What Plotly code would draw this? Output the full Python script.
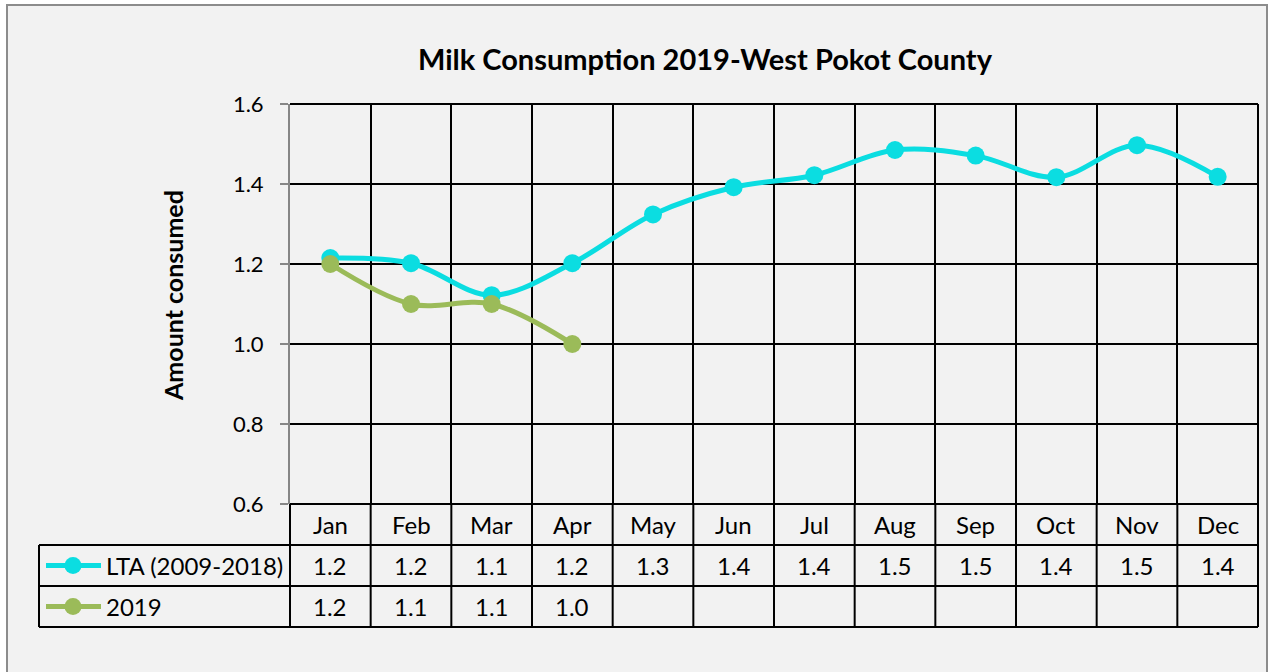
import plotly.graph_objects as go

# ---- data ----
months = ["Jan", "Feb", "Mar", "Apr", "May", "Jun", "Jul", "Aug", "Sep", "Oct", "Nov", "Dec"]
lta_values = [1.215, 1.202, 1.122, 1.202, 1.324, 1.392, 1.422, 1.485, 1.471, 1.417, 1.497, 1.418]
y2019_values = [1.2, 1.1, 1.1, 1.0]
series_names = ["LTA (2009-2018)", "2019"]
y_ticks = [0.6, 0.8, 1.0, 1.2, 1.4, 1.6]

# ---- styling ----
W, H = 1275, 672
CYAN = "#0BDDE1"
GREEN = "#9BBB59"
FONT = "Lato"
GRID = "#000000"
AXIS_GREY = "#868686"

# pixel layout of the plot area and data table
PLOT_L, PLOT_R, PLOT_T, PLOT_B = 290, 1258, 104, 504
ROW_LINES = [504, 545, 586, 627]
TABLE_L = 39


def px(x):
    return x / W


def py(y):
    return 1 - y / H


fig = go.Figure()

fig.add_trace(go.Scatter(
    x=months, y=lta_values, name=series_names[0], mode="lines+markers",
    line=dict(color=CYAN, width=5, shape="spline", smoothing=1.0),
    marker=dict(color=CYAN, size=18),
))
fig.add_trace(go.Scatter(
    x=months[:len(y2019_values)], y=y2019_values, name=series_names[1], mode="lines+markers",
    line=dict(color=GREEN, width=5, shape="spline", smoothing=1.0),
    marker=dict(color=GREEN, size=18),
))

shapes = []
# chart area background and border
shapes.append(dict(type="rect", xref="paper", yref="paper",
                   x0=px(7), x1=px(1267), y0=py(690), y1=py(5),
                   fillcolor="#F2F2F2", line=dict(color="#8C8C8C", width=2), layer="below"))
# plot frame: top, right, bottom
shapes.append(dict(type="line", xref="paper", yref="paper",
                   x0=px(PLOT_L), x1=px(PLOT_R), y0=py(PLOT_T), y1=py(PLOT_T),
                   line=dict(color=GRID, width=2)))
shapes.append(dict(type="line", xref="paper", yref="paper",
                   x0=px(PLOT_R), x1=px(PLOT_R), y0=py(PLOT_T), y1=py(ROW_LINES[-1]),
                   line=dict(color=GRID, width=2)))
shapes.append(dict(type="line", xref="paper", yref="paper",
                   x0=px(PLOT_L), x1=px(PLOT_R), y0=py(PLOT_B), y1=py(PLOT_B),
                   line=dict(color=GRID, width=2)))
# data table horizontal rules
for yy in ROW_LINES[1:]:
    shapes.append(dict(type="line", xref="paper", yref="paper",
                       x0=px(TABLE_L), x1=px(PLOT_R), y0=py(yy), y1=py(yy),
                       line=dict(color=GRID, width=2)))
# data table vertical rules
shapes.append(dict(type="line", xref="paper", yref="paper",
                   x0=px(TABLE_L), x1=px(TABLE_L), y0=py(ROW_LINES[1]), y1=py(ROW_LINES[-1]),
                   line=dict(color=GRID, width=2)))
shapes.append(dict(type="line", xref="paper", yref="paper",
                   x0=px(PLOT_L), x1=px(PLOT_L), y0=py(ROW_LINES[0]), y1=py(ROW_LINES[-1]),
                   line=dict(color=GRID, width=2)))
for k in range(len(months) - 1):
    shapes.append(dict(type="line", xref="x", yref="paper",
                       x0=k + 0.5, x1=k + 0.5, y0=py(ROW_LINES[0]), y1=py(ROW_LINES[-1]),
                       line=dict(color=GRID, width=2)))

# legend keys inside the table
row_centers = [(ROW_LINES[i] + ROW_LINES[i + 1]) / 2 for i in range(3)]
for color, yc in zip([CYAN, GREEN], row_centers[1:]):
    shapes.append(dict(type="line", xref="paper", yref="paper",
                       x0=px(46), x1=px(101), y0=py(yc), y1=py(yc),
                       line=dict(color=color, width=5)))
    shapes.append(dict(type="circle", xref="paper", yref="paper",
                       x0=px(73 - 8.5), x1=px(73 + 8.5), y0=py(yc + 8.5), y1=py(yc - 8.5),
                       fillcolor=color, line=dict(color=color, width=0)))

annotations = []
cell_font = dict(family=FONT, size=24, color="#000000")
for m in months:
    annotations.append(dict(x=m, y=py(row_centers[0]), xref="x", yref="paper", text=m,
                            showarrow=False, font=cell_font, xanchor="center", yanchor="middle"))
for m, v in zip(months, lta_values):
    annotations.append(dict(x=m, y=py(row_centers[1]), xref="x", yref="paper", text=f"{v:.1f}",
                            showarrow=False, font=cell_font, xanchor="center", yanchor="middle"))
for m, v in zip(months, y2019_values):
    annotations.append(dict(x=m, y=py(row_centers[2]), xref="x", yref="paper", text=f"{v:.1f}",
                            showarrow=False, font=cell_font, xanchor="center", yanchor="middle"))
for name, yc in zip(series_names, row_centers[1:]):
    annotations.append(dict(x=px(104), y=py(yc), xref="paper", yref="paper", text=name,
                            showarrow=False, font=cell_font, xanchor="left", yanchor="middle"))
# title and y axis title
annotations.append(dict(x=px(705), y=py(58), xref="paper", yref="paper",
                        text="<b>Milk Consumption 2019-West Pokot County</b>", showarrow=False,
                        font=dict(family=FONT, size=29, color="#000000"),
                        xanchor="center", yanchor="middle"))
annotations.append(dict(x=px(173), y=py(296), xref="paper", yref="paper",
                        text="<b>Amount consumed</b>", showarrow=False, textangle=-90,
                        font=dict(family=FONT, size=25, color="#000000"),
                        xanchor="center", yanchor="middle"))

fig.update_layout(
    width=W, height=H,
    margin=dict(l=0, r=0, t=0, b=0, autoexpand=False),
    paper_bgcolor="white",
    plot_bgcolor="white",
    showlegend=False,
    shapes=shapes,
    annotations=annotations,
    xaxis=dict(
        domain=[px(PLOT_L), px(PLOT_R)],
        type="category",
        categoryorder="array", categoryarray=months,
        range=[-0.5, len(months) - 0.5],
        tickson="boundaries",
        showgrid=True, gridcolor=GRID, gridwidth=2,
        showticklabels=False, ticks="",
        zeroline=False, showline=False, fixedrange=True,
    ),
    yaxis=dict(
        domain=[py(PLOT_B), py(PLOT_T)],
        range=[0.6, 1.6],
        tickvals=y_ticks,
        tickformat=".1f",
        showgrid=True, gridcolor=GRID, gridwidth=2,
        showline=True, linecolor=AXIS_GREY, linewidth=2,
        ticks="outside", ticklen=8, tickwidth=2, tickcolor=AXIS_GREY,
        ticklabelstandoff=12,
        tickfont=dict(family=FONT, size=22, color="#000000"),
        zeroline=False, fixedrange=True,
    ),
)

fig.write_html("out.html")
